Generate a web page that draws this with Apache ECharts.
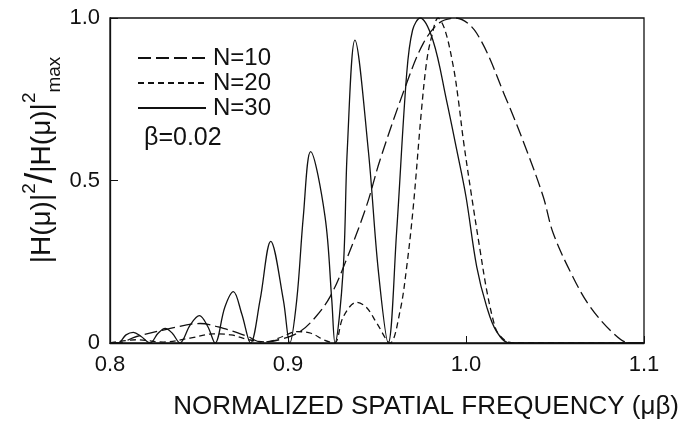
<!DOCTYPE html>
<html>
<head>
<meta charset="utf-8">
<script src="https://cdn.jsdelivr.net/npm/echarts@6/dist/echarts.min.js"></script>
<style>
  html, body { margin: 0; padding: 0; background: #fff; }
  #chart { width: 683px; height: 423px; }
</style>
</head>
<body>
<div id="chart"></div>
<script>
// Normalized spatial frequency (mu*beta) and normalized |H(mu)|^2 for each grating length N
const freqN10 = [0.800, 0.804, 0.815, 0.8318, 0.8506, 0.8637, 0.8768, 0.885, 0.895, 0.9067, 0.9155, 0.9236, 0.932, 0.944, 0.9517, 0.9667, 0.976, 0.985, 0.994, 1.006, 1.0228, 1.034, 1.0434, 1.049, 1.060, 1.0697, 1.0828, 1.092, 1.100];
const magN10  = [0, 0, 0.02, 0.042, 0.06, 0.045, 0.0215, 0.003, 0.01, 0.035, 0.08, 0.142, 0.245, 0.42, 0.563, 0.80, 0.922, 0.985, 1.0, 0.953, 0.748, 0.594, 0.45, 0.3375, 0.204, 0.112, 0.03, 0, 0];

const freqN20 = [0.800, 0.815, 0.830, 0.845, 0.858, 0.868, 0.878, 0.888, 0.897, 0.905, 0.913, 0.920, 0.926, 0.931, 0.9385, 0.944, 0.950, 0.9573, 0.963, 0.9667, 0.9704, 0.975, 0.978, 0.9807, 0.9843, 0.9882, 0.9929, 0.9957, 0.9985, 1.0032, 1.0079, 1.0116, 1.0153, 1.018, 1.024, 1.030, 1.100];
const magN20  = [0, 0.01, 0.003, 0.015, 0.028, 0.025, 0.01, 0.003, 0.02, 0.035, 0.03, 0.01, 0, 0.08, 0.125, 0.11, 0.06, 0, 0.10, 0.235, 0.42, 0.717, 0.87, 0.943, 1.0, 0.963, 0.85, 0.748, 0.625, 0.45, 0.286, 0.163, 0.07, 0.03, 0.003, 0, 0];

const freqN30 = [0.800, 0.8045, 0.809, 0.8131, 0.8175, 0.8225, 0.827, 0.831, 0.835, 0.8393, 0.845, 0.8502, 0.855, 0.859, 0.8645, 0.8693, 0.874, 0.879, 0.8843, 0.8903, 0.8974, 0.901, 0.9049, 0.9086, 0.9127, 0.9208, 0.9246, 0.9264, 0.931, 0.9333, 0.9376, 0.9451, 0.9507, 0.9563, 0.961, 0.9667, 0.970, 0.9742, 0.9815, 0.989, 0.9948, 1.000, 1.006, 1.0116, 1.0172, 1.0247, 1.100];
const magN30  = [0, 0, 0.025, 0.033, 0.02, 0, 0.03, 0.045, 0.03, 0, 0.055, 0.084, 0.05, 0, 0.11, 0.158, 0.09, 0, 0.132, 0.313, 0.132, 0, 0.132, 0.389, 0.589, 0.389, 0.132, 0, 0.225, 0.594, 0.932, 0.594, 0.225, 0, 0.34, 0.83, 0.963, 1.0, 0.93, 0.748, 0.594, 0.45, 0.235, 0.112, 0.035, 0, 0];

const seriesNames = ['N=10', 'N=20', 'N=30'];
const xTicks = [0.8, 0.9, 1.0, 1.1];
const yTicks = [0, 0.5, 1.0];
const betaNote = 'β=0.02';
const xTitle = 'NORMALIZED SPATIAL FREQUENCY (μβ)';

const FONT = '"Liberation Sans", Arial, sans-serif';
const INK = '#111';

function zip(xs, ys) { return xs.map((x, i) => [x, ys[i]]); }

const chart = echarts.init(document.getElementById('chart'), null, { renderer: 'canvas' });

const lineBase = { color: INK, width: 1.3 };

chart.setOption({
  animation: false,
  backgroundColor: '#fff',
  grid: { left: 110, right: 39, top: 18, bottom: 80, show: true, borderColor: INK, borderWidth: 1.3 },
  legend: {
    orient: 'vertical',
    left: 132, top: 41,
    itemWidth: 68, itemHeight: 10, itemGap: 1,
    itemStyle: { opacity: 0 },
    textStyle: { fontFamily: FONT, fontSize: 24, color: INK, padding: [0, 0, 0, 2] },
    data: seriesNames
  },
  xAxis: {
    type: 'value', min: xTicks[0], max: xTicks[xTicks.length - 1], interval: 0.1,
    axisLine: { show: true, lineStyle: { color: INK, width: 1.3 } },
    axisTick: { show: true, inside: true, length: 7, lineStyle: { color: INK } },
    splitLine: { show: false },
    axisLabel: { fontFamily: FONT, fontSize: 22, color: INK, margin: 11,
      formatter: v => v.toFixed(1) }
  },
  yAxis: {
    type: 'value', min: yTicks[0], max: yTicks[yTicks.length - 1], interval: 0.5,
    axisLine: { show: true, lineStyle: { color: INK, width: 1.3 } },
    axisTick: { show: true, inside: true, length: 8, lineStyle: { color: INK } },
    splitLine: { show: false },
    axisLabel: { fontFamily: FONT, fontSize: 22, color: INK, margin: 10,
      formatter: v => (v === 0 ? '0' : v.toFixed(1)) }
  },
  series: [
    { name: seriesNames[0], type: 'line', data: zip(freqN10, magN10), smooth: 0.35, symbol: 'none',
      lineStyle: Object.assign({ type: [13, 5] }, lineBase), itemStyle: { color: INK } },
    { name: seriesNames[1], type: 'line', data: zip(freqN20, magN20), smooth: 0.35, symbol: 'none',
      lineStyle: Object.assign({ type: [6, 4] }, lineBase), itemStyle: { color: INK } },
    { name: seriesNames[2], type: 'line', data: zip(freqN30, magN30), smooth: 0.35, symbol: 'none',
      lineStyle: Object.assign({ type: 'solid' }, lineBase), itemStyle: { color: INK } }
  ],
  graphic: [
    { type: 'text', left: 144, top: 126,
      style: { text: betaNote, font: '25px ' + FONT, fill: INK } },
    { type: 'text', right: 4, top: 394,
      style: { text: xTitle, font: '26px ' + FONT, fill: INK } },
    { type: 'text', x: 42, y: 160, rotation: Math.PI / 2,
      style: {
        text: '{m||H(μ)|}{sup|2}{sl|/}{m||H(μ)|}{sup|2}{sub|max}',
        align: 'center', verticalAlign: 'middle',
        rich: {
          m: { fontFamily: FONT, fontSize: 28, fill: INK, lineHeight: 44, verticalAlign: 'middle' },
          sl: { fontFamily: FONT, fontSize: 38, fill: INK, lineHeight: 44, verticalAlign: 'middle' },
          sup: { fontFamily: FONT, fontSize: 19, fill: INK, lineHeight: 44, verticalAlign: 'top' },
          sub: { fontFamily: FONT, fontSize: 19, fill: INK, lineHeight: 44, verticalAlign: 'bottom' }
        }
      } }
  ]
});
</script>
</body>
</html>
